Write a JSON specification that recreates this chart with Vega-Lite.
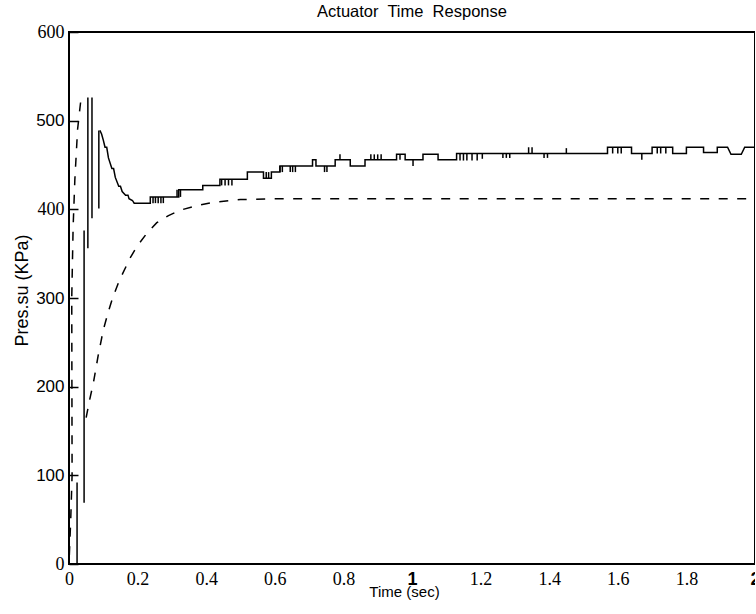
{
  "$schema": "https://vega.github.io/schema/vega-lite/v6.json",
  "width": 686,
  "height": 532,
  "autosize": {"type": "none"},
  "padding": {"left": 69, "top": 32, "right": 0, "bottom": 50},
  "background": "white",
  "title": {
    "text": "Actuator\u00a0 Time\u00a0 Response",
    "font": "Liberation Sans",
    "fontSize": 16.5,
    "fontWeight": "normal",
    "color": "black",
    "anchor": "middle",
    "baseline": "alphabetic",
    "offset": -10
  },
  "config": {
    "view": {"stroke": "black", "strokeWidth": 2},
    "axis": {"grid": false, "domain": false}
  },
  "datasets": {
    "dash": [
      {"s": "a", "i": 1, "t": 0.001, "p": 10},
      {"s": "a", "i": 2, "t": 0.005, "p": 50},
      {"s": "a", "i": 3, "t": 0.009, "p": 100},
      {"s": "a", "i": 4, "t": 0.008, "p": 300},
      {"s": "a", "i": 5, "t": 0.012, "p": 380},
      {"s": "a", "i": 6, "t": 0.017, "p": 433},
      {"s": "a", "i": 7, "t": 0.025, "p": 490},
      {"s": "a", "i": 8, "t": 0.035, "p": 525},
      {"s": "b", "i": 1, "t": 0.05, "p": 165},
      {"s": "b", "i": 2, "t": 0.06, "p": 185},
      {"s": "b", "i": 3, "t": 0.071, "p": 204},
      {"s": "b", "i": 4, "t": 0.085, "p": 235},
      {"s": "b", "i": 5, "t": 0.1, "p": 264},
      {"s": "b", "i": 6, "t": 0.115, "p": 285},
      {"s": "b", "i": 7, "t": 0.128, "p": 301},
      {"s": "b", "i": 8, "t": 0.145, "p": 318},
      {"s": "b", "i": 9, "t": 0.157, "p": 328},
      {"s": "b", "i": 10, "t": 0.178, "p": 345},
      {"s": "b", "i": 11, "t": 0.198, "p": 358},
      {"s": "b", "i": 12, "t": 0.225, "p": 372},
      {"s": "b", "i": 13, "t": 0.256, "p": 385},
      {"s": "b", "i": 14, "t": 0.29, "p": 393},
      {"s": "b", "i": 15, "t": 0.324, "p": 399},
      {"s": "b", "i": 16, "t": 0.37, "p": 404},
      {"s": "b", "i": 17, "t": 0.42, "p": 408},
      {"s": "b", "i": 18, "t": 0.5, "p": 411},
      {"s": "b", "i": 19, "t": 0.6, "p": 412},
      {"s": "b", "i": 20, "t": 2.0, "p": 412}
    ],
    "solid": [
      {"i": 1, "t": 0.09, "p": 489},
      {"i": 2, "t": 0.095, "p": 485},
      {"i": 3, "t": 0.1, "p": 478},
      {"i": 4, "t": 0.105, "p": 470},
      {"i": 5, "t": 0.11, "p": 470},
      {"i": 6, "t": 0.115, "p": 458},
      {"i": 7, "t": 0.125, "p": 446},
      {"i": 8, "t": 0.13, "p": 446},
      {"i": 9, "t": 0.135, "p": 436},
      {"i": 10, "t": 0.145, "p": 426},
      {"i": 11, "t": 0.15, "p": 426},
      {"i": 12, "t": 0.155, "p": 420},
      {"i": 13, "t": 0.165, "p": 416},
      {"i": 14, "t": 0.172, "p": 416},
      {"i": 15, "t": 0.175, "p": 412},
      {"i": 16, "t": 0.185, "p": 410},
      {"i": 17, "t": 0.19, "p": 407},
      {"i": 18, "t": 0.237, "p": 407},
      {"i": 19, "t": 0.237, "p": 414},
      {"i": 20, "t": 0.32, "p": 414},
      {"i": 21, "t": 0.32, "p": 422},
      {"i": 22, "t": 0.39, "p": 422},
      {"i": 23, "t": 0.39, "p": 427},
      {"i": 24, "t": 0.44, "p": 427},
      {"i": 25, "t": 0.44, "p": 434},
      {"i": 26, "t": 0.52, "p": 434},
      {"i": 27, "t": 0.52, "p": 442},
      {"i": 28, "t": 0.567, "p": 442},
      {"i": 29, "t": 0.567, "p": 435},
      {"i": 30, "t": 0.59, "p": 435},
      {"i": 31, "t": 0.59, "p": 442},
      {"i": 32, "t": 0.615, "p": 442},
      {"i": 33, "t": 0.615, "p": 449},
      {"i": 34, "t": 0.71, "p": 449},
      {"i": 35, "t": 0.71, "p": 456},
      {"i": 36, "t": 0.72, "p": 456},
      {"i": 37, "t": 0.72, "p": 449},
      {"i": 38, "t": 0.776, "p": 449},
      {"i": 39, "t": 0.776, "p": 456},
      {"i": 40, "t": 0.82, "p": 456},
      {"i": 41, "t": 0.82, "p": 449},
      {"i": 42, "t": 0.863, "p": 449},
      {"i": 43, "t": 0.863, "p": 456},
      {"i": 44, "t": 0.955, "p": 456},
      {"i": 45, "t": 0.955, "p": 462},
      {"i": 46, "t": 0.98, "p": 462},
      {"i": 47, "t": 0.98, "p": 456},
      {"i": 48, "t": 1.032, "p": 456},
      {"i": 49, "t": 1.032, "p": 462},
      {"i": 50, "t": 1.076, "p": 462},
      {"i": 51, "t": 1.076, "p": 456},
      {"i": 52, "t": 1.13, "p": 456},
      {"i": 53, "t": 1.13, "p": 463},
      {"i": 54, "t": 1.57, "p": 463},
      {"i": 55, "t": 1.57, "p": 470},
      {"i": 56, "t": 1.64, "p": 470},
      {"i": 57, "t": 1.64, "p": 463},
      {"i": 58, "t": 1.70, "p": 463},
      {"i": 59, "t": 1.70, "p": 470},
      {"i": 60, "t": 1.76, "p": 470},
      {"i": 61, "t": 1.76, "p": 463},
      {"i": 62, "t": 1.80, "p": 463},
      {"i": 63, "t": 1.80, "p": 470},
      {"i": 64, "t": 1.85, "p": 470},
      {"i": 65, "t": 1.85, "p": 464},
      {"i": 66, "t": 1.89, "p": 464},
      {"i": 67, "t": 1.89, "p": 470},
      {"i": 68, "t": 1.92, "p": 470},
      {"i": 69, "t": 1.93, "p": 462},
      {"i": 70, "t": 1.96, "p": 462},
      {"i": 71, "t": 1.97, "p": 470},
      {"i": 72, "t": 2.0, "p": 470}
    ],
    "spk": [
      {"t": 0.0235, "lo": 0, "hi": 92},
      {"t": 0.044, "lo": 69, "hi": 376},
      {"t": 0.055, "lo": 356, "hi": 526},
      {"t": 0.067, "lo": 390, "hi": 526},
      {"t": 0.087, "lo": 401, "hi": 489},
      {"t": 0.245, "lo": 407, "hi": 414},
      {"t": 0.252, "lo": 407, "hi": 414},
      {"t": 0.26, "lo": 407, "hi": 414},
      {"t": 0.268, "lo": 407, "hi": 414},
      {"t": 0.275, "lo": 407, "hi": 414},
      {"t": 0.315, "lo": 414, "hi": 422},
      {"t": 0.325, "lo": 414, "hi": 422},
      {"t": 0.445, "lo": 427, "hi": 434},
      {"t": 0.455, "lo": 427, "hi": 434},
      {"t": 0.465, "lo": 427, "hi": 434},
      {"t": 0.475, "lo": 427, "hi": 434},
      {"t": 0.575, "lo": 435, "hi": 442},
      {"t": 0.582, "lo": 435, "hi": 442},
      {"t": 0.615, "lo": 442, "hi": 449},
      {"t": 0.622, "lo": 442, "hi": 449},
      {"t": 0.645, "lo": 442, "hi": 449},
      {"t": 0.652, "lo": 442, "hi": 449},
      {"t": 0.66, "lo": 442, "hi": 449},
      {"t": 0.745, "lo": 442, "hi": 449},
      {"t": 0.752, "lo": 442, "hi": 449},
      {"t": 0.79, "lo": 456, "hi": 462},
      {"t": 0.88, "lo": 456, "hi": 462},
      {"t": 0.89, "lo": 456, "hi": 462},
      {"t": 0.9, "lo": 456, "hi": 462},
      {"t": 0.91, "lo": 456, "hi": 462},
      {"t": 0.965, "lo": 456, "hi": 462},
      {"t": 1.003, "lo": 449, "hi": 456},
      {"t": 1.14, "lo": 455, "hi": 463},
      {"t": 1.15, "lo": 455, "hi": 463},
      {"t": 1.16, "lo": 455, "hi": 463},
      {"t": 1.175, "lo": 455, "hi": 463},
      {"t": 1.19, "lo": 455, "hi": 463},
      {"t": 1.205, "lo": 457, "hi": 463},
      {"t": 1.265, "lo": 458, "hi": 463},
      {"t": 1.275, "lo": 458, "hi": 463},
      {"t": 1.285, "lo": 458, "hi": 463},
      {"t": 1.34, "lo": 463, "hi": 470},
      {"t": 1.35, "lo": 463, "hi": 470},
      {"t": 1.385, "lo": 458, "hi": 463},
      {"t": 1.395, "lo": 458, "hi": 463},
      {"t": 1.45, "lo": 463, "hi": 469},
      {"t": 1.585, "lo": 463, "hi": 470},
      {"t": 1.6, "lo": 463, "hi": 470},
      {"t": 1.61, "lo": 463, "hi": 470},
      {"t": 1.67, "lo": 456, "hi": 463},
      {"t": 1.715, "lo": 463, "hi": 470},
      {"t": 1.725, "lo": 463, "hi": 470},
      {"t": 1.74, "lo": 463, "hi": 470}
    ]
  },
  "layer": [
    {
      "data": {"name": "dash"},
      "mark": {"type": "line", "color": "black", "strokeWidth": 1.5, "strokeDash": [9, 9.5], "clip": true},
      "encoding": {
        "x": {
          "field": "t", "type": "quantitative",
          "scale": {"domain": [0, 2], "nice": false, "zero": false},
          "axis": {
            "values": [0, 0.2, 0.4, 0.6, 0.8, 1, 1.2, 1.4, 1.6, 1.8, 2],
            "format": "~g",
            "title": "Time (sec)",
            "titleFont": "Liberation Sans",
            "titleFontSize": 15,
            "titleFontWeight": "normal",
            "titleColor": "black",
            "titleX": 335,
            "titleY": 32,
            "titleBaseline": "alphabetic",
            "ticks": false,
            "labelPadding": 6,
            "labelColor": "black",
            "labelFontSize": 18,
            "labelFont": {"condition": {"test": "datum.value == 1 || datum.value == 2", "value": "Liberation Sans"}, "value": "Liberation Serif"},
            "labelFontWeight": {"condition": {"test": "datum.value == 1 || datum.value == 2", "value": "bold"}, "value": "normal"},
            "labelFlush": false
          }
        },
        "y": {
          "field": "p", "type": "quantitative",
          "scale": {"domain": [0, 600], "nice": false},
          "axis": {
            "values": [0, 100, 200, 300, 400, 500, 600],
            "title": "Pres.su (KPa)",
            "titleFont": "Liberation Sans",
            "titleFontSize": 18,
            "titleFontWeight": "normal",
            "titleColor": "black",
            "titleX": -47,
            "titleY": 258,
            "titleAngle": 270,
            "titleAlign": "center",
            "titleBaseline": "middle",
            "tickSize": -9,
            "tickColor": "black",
            "tickWidth": 1.5,
            "labelPadding": 14,
            "labelColor": "black",
            "labelFontSize": {"condition": {"test": "datum.value == 0 || datum.value == 400 || datum.value == 600", "value": 18}, "value": 17},
            "labelFont": {"condition": {"test": "datum.value == 0 || datum.value == 400 || datum.value == 600", "value": "Liberation Serif"}, "value": "Liberation Sans"},
            "labelFlush": false
          }
        },
        "detail": {"field": "s"},
        "order": {"field": "i"}
      }
    },
    {
      "data": {"name": "solid"},
      "mark": {"type": "line", "color": "black", "strokeWidth": 1.5, "clip": true},
      "encoding": {
        "x": {"field": "t", "type": "quantitative"},
        "y": {"field": "p", "type": "quantitative"},
        "order": {"field": "i"}
      }
    },
    {
      "data": {"name": "spk"},
      "mark": {"type": "rule", "color": "black", "strokeWidth": 1.5, "clip": true},
      "encoding": {
        "x": {"field": "t", "type": "quantitative"},
        "y": {"field": "lo", "type": "quantitative"},
        "y2": {"field": "hi"}
      }
    }
  ]
}
